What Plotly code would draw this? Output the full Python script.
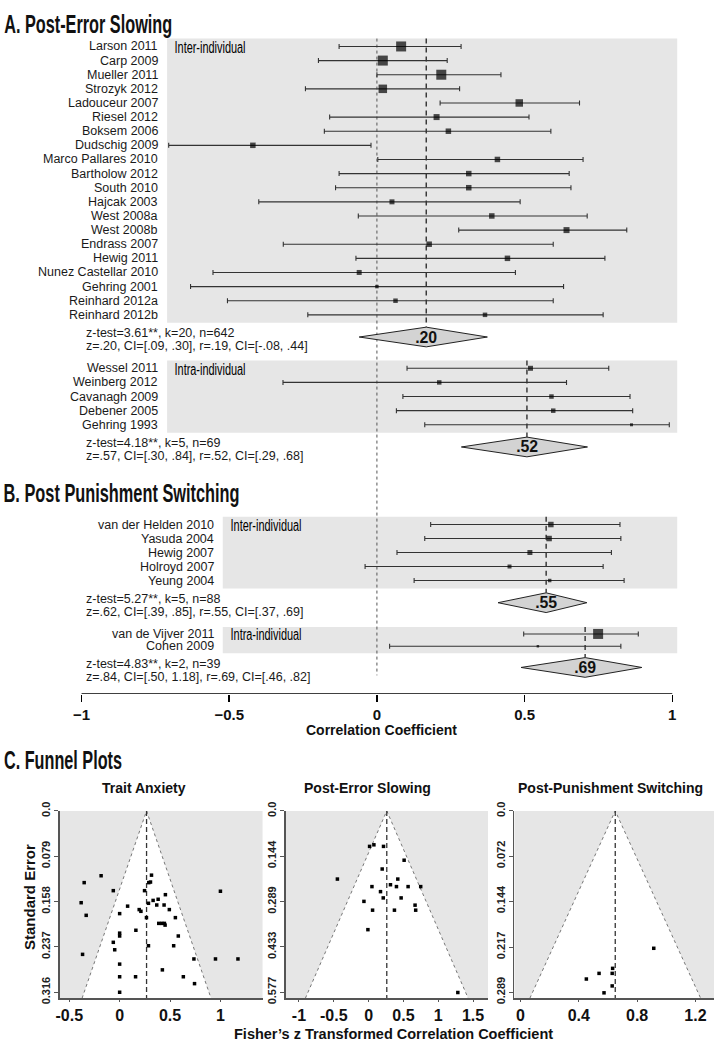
import json
import plotly.graph_objects as go

# ------------------------------------------------------------------ data
pes_inter_studies = ["Larson 2011", "Carp 2009", "Mueller 2011", "Strozyk 2012", "Ladouceur 2007",
                     "Riesel 2012", "Boksem 2006", "Dudschig 2009", "Marco Pallares 2010",
                     "Bartholow 2012", "South 2010", "Hajcak 2003", "West 2008a", "West 2008b",
                     "Endrass 2007", "Hewig 2011", "Nunez Castellar 2010", "Gehring 2001",
                     "Reinhard 2012a", "Reinhard 2012b"]
pes_inter_r = [0.082, 0.020, 0.218, 0.020, 0.482, 0.202, 0.242, -0.420, 0.408, 0.311,
               0.311, 0.051, 0.389, 0.642, 0.177, 0.442, -0.060, 0.000, 0.063, 0.366]
pes_inter_lo = [-0.128, -0.198, 0.000, -0.242, 0.214, -0.160, -0.178, -0.705, 0.003, -0.128,
                -0.140, -0.400, -0.063, 0.277, -0.317, -0.071, -0.555, -0.631, -0.506, -0.234]
pes_inter_hi = [0.285, 0.238, 0.420, 0.280, 0.686, 0.515, 0.589, -0.020, 0.698, 0.651,
                0.657, 0.485, 0.712, 0.846, 0.597, 0.772, 0.469, 0.632, 0.597, 0.766]
pes_inter_weight = [10, 10, 10, 8.5, 7.5, 6, 5.5, 5.5, 5.5, 5.5, 5.5, 5, 5.5, 6, 5.5, 5.5, 5, 3.5, 4.5, 4.5]
pes_inter_diamond = [-0.060, 0.167, 0.374]
pes_inter_label = ".20"
pes_inter_stats = ["z-test=3.61**, k=20, n=642", "z=.20, CI=[.09, .30], r=.19, CI=[-.08, .44]"]

pes_intra_studies = ["Wessel 2011", "Weinberg 2012", "Cavanagh 2009", "Debener 2005", "Gehring 1993"]
pes_intra_r = [0.520, 0.211, 0.591, 0.597, 0.862]
pes_intra_lo = [0.102, -0.318, 0.088, 0.066, 0.162]
pes_intra_hi = [0.785, 0.642, 0.857, 0.866, 0.990]
pes_intra_weight = [5, 4.5, 4.5, 4.5, 3]
pes_intra_diamond = [0.286, 0.508, 0.713]
pes_intra_label = ".52"
pes_intra_stats = ["z-test=4.18**, k=5, n=69", "z=.57, CI=[.30, .84], r=.52, CI=[.29, .68]"]

pps_inter_studies = ["van der Helden 2010", "Yasuda 2004", "Hewig 2007", "Holroyd 2007", "Yeung 2004"]
pps_inter_r = [0.589, 0.583, 0.518, 0.449, 0.585]
pps_inter_lo = [0.182, 0.162, 0.068, -0.040, 0.126]
pps_inter_hi = [0.823, 0.826, 0.794, 0.766, 0.837]
pps_inter_weight = [5.5, 5.5, 5, 4, 3.5]
pps_inter_diamond = [0.410, 0.573, 0.711]
pps_inter_label = ".55"
pps_inter_stats = ["z-test=5.27**, k=5, n=88", "z=.62, CI=[.39, .85], r=.55, CI=[.37, .69]"]

pps_intra_studies = ["van de Vijver 2011", "Cohen 2009"]
pps_intra_r = [0.749, 0.545]
pps_intra_lo = [0.497, 0.043]
pps_intra_hi = [0.885, 0.826]
pps_intra_weight = [10, 2.5]
pps_intra_diamond = [0.488, 0.705, 0.897]
pps_intra_label = ".69"
pps_intra_stats = ["z-test=4.83**, k=2, n=39", "z=.84, CI=[.50, 1.18], r=.69, CI=[.46, .82]"]

forest_ticks = [-1, -0.5, 0, 0.5, 1]
forest_ticktext = ["\u22121", "\u22120.5", "0", "0.5", "1"]

# funnel plots (Fisher z, standard error)
ta_z = [-0.184, -0.352, -0.063, -0.382, -0.332, -0.368, 0.316, 0.289, 0.306, 0.247, 0.454,
        0.332, 0.382, 0.286, 0.368, 0.441, 0.493, 0.079, 0.194, 0.211, 0.000, 0.266, 0.553,
        0.388, 0.418, 0.444, 0.451, 0.161, 0.000, 0.000, 0.582, -0.063, -0.049, 0.286, 0.536,
        1.000, 0.737, 0.951, 1.174, 0.000, 0.424, 0.158, 0.000, 0.632, 0.743, 0.000]
ta_se = [0.113, 0.125, 0.139, 0.160, 0.182, 0.250, 0.112, 0.125, 0.124, 0.139, 0.146,
         0.156, 0.154, 0.161, 0.164, 0.164, 0.172, 0.166, 0.172, 0.175, 0.179, 0.186, 0.186,
         0.196, 0.196, 0.196, 0.199, 0.208, 0.213, 0.218, 0.218, 0.229, 0.242, 0.235, 0.235,
         0.140, 0.258, 0.258, 0.258, 0.267, 0.277, 0.289, 0.289, 0.289, 0.301, 0.316]
ta_center = 0.267
ta_ticks = [0.0, 0.079, 0.158, 0.237, 0.316]
ta_ticktext = ["0.0", "0.079", "0.158", "0.237", "0.316"]
ta_xticks = [-0.5, 0, 0.5, 1]

pesf_z = [0.014, 0.076, 0.214, 0.510, 0.195, -0.448, 0.419, 0.314, 0.400, 0.567, 0.748, 0.048,
          0.171, 0.210, 0.467, -0.067, 0.667, 0.676, 0.057, 0.371, -0.010, 1.281]
pesf_se = [0.113, 0.108, 0.113, 0.157, 0.185, 0.217, 0.217, 0.235, 0.241, 0.241, 0.241, 0.241,
           0.257, 0.277, 0.277, 0.288, 0.300, 0.316, 0.316, 0.316, 0.378, 0.578]
pesf_center = 0.261
pesf_ticks = [0.0, 0.144, 0.289, 0.433, 0.577]
pesf_ticktext = ["0.0", "0.144", "0.289", "0.433", "0.577"]
pesf_xticks = [-1, -0.5, 0, 0.5, 1, 1.5]

ppsf_z = [0.914, 0.632, 0.629, 0.539, 0.452, 0.629, 0.573]
ppsf_se = [0.219, 0.251, 0.259, 0.259, 0.268, 0.279, 0.290]
ppsf_center = 0.650
ppsf_ticks = [0.0, 0.072, 0.144, 0.217, 0.289]
ppsf_ticktext = ["0.0", "0.072", "0.144", "0.217", "0.289"]
ppsf_xticks = [0, 0.4, 0.8, 1.2]

# ------------------------------------------------------------------ styling / layout constants
W, H = 717, 1050
SANS = "Liberation Sans, Arial, Helvetica, sans-serif"
PANEL_GRAY = "#e6e6e6"
PX_PER_R = 297.0
ZERO_PX = 375.0
FOREST_BOTTOM = 695.0

CONDENSED = {}   # text -> target width (px), applied via SVG textLength

def dx(px):
    return px / PX_PER_R

def r_at(px):
    return (px - ZERO_PX) / PX_PER_R

fig = go.Figure()
shapes = []
annotations = []

def add_section(studies, r, lo, hi, weight, diamond, label, stats, top, left_px, row_h, pad, group_name):
    n = len(studies)
    ys = [top + pad + i * row_h for i in range(n)]
    bottom = top + 2 * pad + (n - 1) * row_h
    x_left = r_at(left_px)
    x_right = r_at(677)
    shapes.append(dict(type="rect", xref="x", yref="y", x0=x_left, x1=x_right, y0=top, y1=bottom,
                       fillcolor=PANEL_GRAY, line=dict(width=0), layer="below"))
    yc = bottom + 14.5
    shapes.append(dict(type="line", xref="x", yref="y", x0=diamond[1], x1=diamond[1], y0=top, y1=yc - 10,
                       line=dict(color="#222", width=1.3, dash="5px,4px"), layer="below"))
    fig.add_trace(go.Scatter(
        x=r, y=ys, mode="markers",
        marker=dict(symbol="square", size=weight, color="black", line=dict(width=0)),
        error_x=dict(type="data", symmetric=False,
                     array=[h - v for h, v in zip(hi, r)],
                     arrayminus=[v - l for v, l in zip(r, lo)],
                     color="#333", thickness=1.1, width=2.5),
        showlegend=False, hoverinfo="skip"))
    for s, y in zip(studies, ys):
        annotations.append(dict(x=x_left - dx(7), y=y, xref="x", yref="y", text=s, showarrow=False,
                                xanchor="right", yanchor="middle",
                                font=dict(family=SANS, size=12.5, color="#1a1a1a")))
    annotations.append(dict(x=x_left + dx(8 + 35.5), y=ys[0] + 1, xref="x", yref="y", text=group_name,
                            showarrow=False, xanchor="center", yanchor="middle",
                            font=dict(family=SANS, size=16, color="black")))
    CONDENSED[group_name] = 71
    fig.add_trace(go.Scatter(
        x=[diamond[0], diamond[1], diamond[2], diamond[1], diamond[0]],
        y=[yc, yc - 10, yc, yc + 10, yc], mode="lines", fill="toself",
        fillcolor="#d3d3d3", line=dict(color="#222", width=1), showlegend=False, hoverinfo="skip"))
    annotations.append(dict(x=diamond[1], y=yc, xref="x", yref="y", text="<b>%s</b>" % label,
                            showarrow=False, font=dict(family=SANS, size=16, color="#111")))
    CONDENSED[label] = 22
    annotations.append(dict(x=r_at(80), y=bottom + 10.5, xref="x", yref="y", text=stats[0], showarrow=False,
                            xanchor="left", yanchor="middle", font=dict(family=SANS, size=12.5, color="#1a1a1a")))
    annotations.append(dict(x=r_at(80), y=bottom + 24, xref="x", yref="y", text=stats[1], showarrow=False,
                            xanchor="left", yanchor="middle", font=dict(family=SANS, size=12.5, color="#1a1a1a")))

add_section(pes_inter_studies, pes_inter_r, pes_inter_lo, pes_inter_hi, pes_inter_weight,
            pes_inter_diamond, pes_inter_label, pes_inter_stats, 30, 164, 14.33, 8, "Inter-individual")
add_section(pes_intra_studies, pes_intra_r, pes_intra_lo, pes_intra_hi, pes_intra_weight,
            pes_intra_diamond, pes_intra_label, pes_intra_stats, 356.5, 164, 14.33, 8, "Intra-individual")
add_section(pps_inter_studies, pps_inter_r, pps_inter_lo, pps_inter_hi, pps_inter_weight,
            pps_inter_diamond, pps_inter_label, pps_inter_stats, 515, 220, 14.2, 8, "Inter-individual")
add_section(pps_intra_studies, pps_intra_r, pps_intra_lo, pps_intra_hi, pps_intra_weight,
            pps_intra_diamond, pps_intra_label, pps_intra_stats, 627, 220, 12.5, 7, "Intra-individual")

shapes.append(dict(type="line", xref="x", yref="y", x0=0, x1=0, y0=30, y1=676,
                   line=dict(color="#555", width=1, dash="dot"), layer="below"))
shapes.append(dict(type="line", xref="x", yref="y", x0=forest_ticks[0], x1=forest_ticks[-1],
                   y0=FOREST_BOTTOM, y1=FOREST_BOTTOM, line=dict(color="black", width=1.5)))

# ------------------------------------------------------------------ funnel plots
funnel_specs = [
    ("2", ta_z, ta_se, ta_center, ta_ticks, ta_ticktext, ta_xticks, (56, 260), (-0.595, 1.418), 0.3263),
    ("3", pesf_z, pesf_se, pesf_center, pesf_ticks, pesf_ticktext, pesf_xticks, (283.3, 486.7), (-1.19, 1.714), 0.596),
    ("4", ppsf_z, ppsf_se, ppsf_center, ppsf_ticks, ppsf_ticktext, ppsf_xticks, (513.3, 714), (-0.041, 1.327), 0.2985),
]
F_TOP, F_BOT = 813.5, 1003.5
for k, zs, ses, c, yt, ytt, xt, dom, xr, ymax in funnel_specs:
    xa, ya = "x" + k, "y" + k
    shapes.append(dict(type="rect", xref=xa + " domain", yref=ya + " domain", x0=0, x1=1, y0=0, y1=1,
                       fillcolor=PANEL_GRAY, line=dict(width=0), layer="below"))
    half = 1.96 * ymax
    fig.add_trace(go.Scatter(x=[c - half, c, c + half, c - half], y=[ymax, 0, ymax, ymax],
                             mode="lines", fill="toself", fillcolor="white", line=dict(width=0),
                             xaxis=xa, yaxis=ya, showlegend=False, hoverinfo="skip"))
    fig.add_trace(go.Scatter(x=[c - half, c, c + half], y=[ymax, 0, ymax], mode="lines",
                             line=dict(color="#777", width=1, dash="dot"),
                             xaxis=xa, yaxis=ya, showlegend=False, hoverinfo="skip"))
    fig.add_trace(go.Scatter(x=[c, c], y=[0, ymax], mode="lines",
                             line=dict(color="#333", width=1.3, dash="5px,3px"),
                             xaxis=xa, yaxis=ya, showlegend=False, hoverinfo="skip"))
    fig.add_trace(go.Scatter(x=zs, y=ses, mode="markers",
                             marker=dict(symbol="square", size=3.5, color="black", line=dict(width=0)),
                             xaxis=xa, yaxis=ya, showlegend=False, hoverinfo="skip", cliponaxis=False))
    fig.update_layout(**{
        "xaxis" + k: dict(domain=[dom[0] / W, dom[1] / W], range=list(xr), anchor=ya,
                          tickvals=xt, ticktext=[("%g" % v) for v in xt], showgrid=False, zeroline=False,
                          showline=True, linecolor="#555", linewidth=1.5, ticks="outside", ticklen=2,
                          tickcolor="#555", tickfont=dict(family=SANS, size=16, color="#111", weight="bold")),
        "yaxis" + k: dict(domain=[1 - F_BOT / H, 1 - F_TOP / H], range=[ymax, 0], anchor=xa,
                          tickvals=yt, ticktext=ytt, tickangle=-90, showgrid=False, zeroline=False,
                          showline=True, linecolor="#555", linewidth=1.5, ticks="outside", ticklen=4,
                          tickcolor="#555", tickfont=dict(family=SANS, size=11, color="#222", weight="bold")),
    })

# ------------------------------------------------------------------ titles / labels
def paper_ann(text, xpx, ypx, size, xanchor="left", angle=0, color="#111"):
    annotations.append(dict(x=xpx / W, y=1 - ypx / H, xref="paper", yref="paper", text=text,
                            showarrow=False, xanchor=xanchor, yanchor="middle", textangle=angle,
                            font=dict(family=SANS, size=size, color=color)))

section_titles = [("A. Post-Error Slowing", 15, 168), ("B. Post Punishment Switching", 491, 236),
                  ("C. Funnel Plots", 762, 118)]
for t, ypx, wpx in section_titles:
    paper_ann("<b>%s</b>" % t, wpx / 2.0, ypx, 25, "center")
    CONDENSED[t] = wpx

paper_ann("<b>Correlation Coefficient</b>", 380, 731, 14, "center")
paper_ann("<b>Trait Anxiety</b>", 141, 790, 14, "center")
paper_ann("<b>Post-Error Slowing</b>", 366, 790, 14, "center")
paper_ann("<b>Post-Punishment Switching</b>", 610, 790, 14, "center")
paper_ann("<b>Standard Error</b>", 25, 901, 15, "center", -90)
paper_ann("<b>Fisher\u2019s z Transformed Correlation Coefficient</b>", 392, 1040, 14.5, "center")

fig.update_layout(
    width=W, height=H, margin=dict(l=0, r=0, t=0, b=0),
    paper_bgcolor="white", plot_bgcolor="rgba(0,0,0,0)",
    xaxis=dict(domain=[0, 1], range=[r_at(0), r_at(W)], anchor="y", tickvals=forest_ticks,
               ticktext=forest_ticktext, showgrid=False, zeroline=False, showline=False,
               ticks="outside", ticklen=7, tickwidth=1.5, tickcolor="black",
               tickfont=dict(family=SANS, size=15, color="#111", weight="bold")),
    yaxis=dict(domain=[1 - FOREST_BOTTOM / H, 1], range=[FOREST_BOTTOM, 0], visible=False,
               showgrid=False, zeroline=False),
    shapes=shapes, annotations=annotations, showlegend=False, hovermode=False,
)

post_js = """
document.body.style.margin = '0px';
document.body.style.padding = '0px';
var CONDENSED = %s;
function condense() {
  var nodes = document.querySelectorAll('text.annotation-text');
  nodes.forEach(function (t) {
    var key = t.textContent;
    if (!(key in CONDENSED)) return;
    var b0 = t.getBBox();
    t.setAttribute('textLength', CONDENSED[key]);
    t.setAttribute('lengthAdjust', 'spacingAndGlyphs');
    var b1 = t.getBBox();
    var shift = (b0.x + b0.width / 2) - (b1.x + b1.width / 2);
    if (Math.abs(shift) > 0.5) {
      t.setAttribute('x', parseFloat(t.getAttribute('x') || 0) + shift);
    }
  });
}
condense();
""" % json.dumps(CONDENSED)

fig.write_html("out.html", post_script=post_js,
               config={"displayModeBar": False, "staticPlot": True})
